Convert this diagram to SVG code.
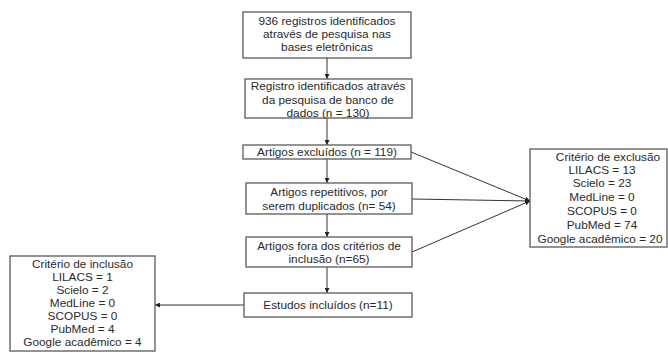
<svg xmlns="http://www.w3.org/2000/svg" width="668" height="354" viewBox="0 0 668 354">
<style>
.box{fill:#fff;stroke:#5a5a5a;stroke-width:1.3}
.t{font-family:"Liberation Sans",Arial,sans-serif;font-size:11.8px;fill:#2a2a2a;text-anchor:middle}
.c{stroke:#333;stroke-width:1;fill:none}
</style>
<defs>
<marker id="ah" viewBox="0 0 6 6" refX="6" refY="3" markerWidth="5" markerHeight="5" orient="auto">
<path d="M0,0 L6,3 L0,6 z" fill="#222"/>
</marker>
</defs>
<rect width="668" height="354" fill="#fff"/>
<g id="connectors">
<line class="c" x1="327" y1="58" x2="327" y2="79" marker-end="url(#ah)"/>
<line class="c" x1="327" y1="118" x2="327" y2="145" marker-end="url(#ah)"/>
<line class="c" x1="327" y1="159" x2="327" y2="183" marker-end="url(#ah)"/>
<line class="c" x1="327" y1="214" x2="327" y2="237" marker-end="url(#ah)"/>
<line class="c" x1="327" y1="267" x2="327" y2="293" marker-end="url(#ah)"/>
<line class="c" x1="411" y1="152" x2="530" y2="201" marker-end="url(#ah)"/>
<line class="c" x1="412" y1="199" x2="530" y2="201" marker-end="url(#ah)"/>
<line class="c" x1="412" y1="252" x2="530" y2="201" marker-end="url(#ah)"/>
<line class="c" x1="244" y1="305" x2="155" y2="305" marker-end="url(#ah)"/>
</g>
<g id="n1">
<rect class="box" x="243" y="12" width="168" height="46"/>
<text class="t" x="327" y="25">936 registros identificados</text>
<text class="t" x="327" y="38">através de pesquisa nas</text>
<text class="t" x="327" y="51">bases eletrônicas</text>
</g>
<g id="n2">
<rect class="box" x="245" y="79" width="167" height="39"/>
<text class="t" x="328" y="90">Registro identificados através</text>
<text class="t" x="328" y="104">da pesquisa de banco de</text>
<text class="t" x="328" y="117">dados (n = 130)</text>
</g>
<g id="n3">
<rect class="box" x="243" y="145" width="168" height="14"/>
<text class="t" x="327" y="156">Artigos excluídos (n = 119)</text>
</g>
<g id="n4">
<rect class="box" x="246" y="183" width="166" height="31"/>
<text class="t" x="329" y="196">Artigos repetitivos, por</text>
<text class="t" x="329" y="210">serem duplicados (n= 54)</text>
</g>
<g id="n5">
<rect class="box" x="246" y="237" width="166" height="30"/>
<text class="t" x="329" y="250">Artigos fora dos critérios de</text>
<text class="t" x="329" y="263">inclusão (n=65)</text>
</g>
<g id="n6">
<rect class="box" x="244" y="293" width="168" height="24"/>
<text class="t" x="328" y="309">Estudos incluídos (n=11)</text>
</g>
<g id="n7">
<rect class="box" x="530" y="149" width="137" height="98"/>
<text class="t" x="608" y="161">Critério de exclusão</text>
<text class="t" x="602" y="174">LILACS = 13</text>
<text class="t" x="602" y="187">Scielo = 23</text>
<text class="t" x="602" y="201">MedLine = 0</text>
<text class="t" x="602" y="215">SCOPUS = 0</text>
<text class="t" x="602" y="229">PubMed = 74</text>
<text class="t" x="600" y="243">Google acadêmico = 20</text>
</g>
<g id="n8">
<rect class="box" x="10" y="256" width="145" height="95"/>
<text class="t" x="82.5" y="268">Critério de inclusão</text>
<text class="t" x="82.5" y="281">LILACS = 1</text>
<text class="t" x="82.5" y="294">Scielo = 2</text>
<text class="t" x="82.5" y="307">MedLine = 0</text>
<text class="t" x="82.5" y="320">SCOPUS = 0</text>
<text class="t" x="82.5" y="333">PubMed = 4</text>
<text class="t" x="82.5" y="346">Google acadêmico = 4</text>
</g>
</svg>
